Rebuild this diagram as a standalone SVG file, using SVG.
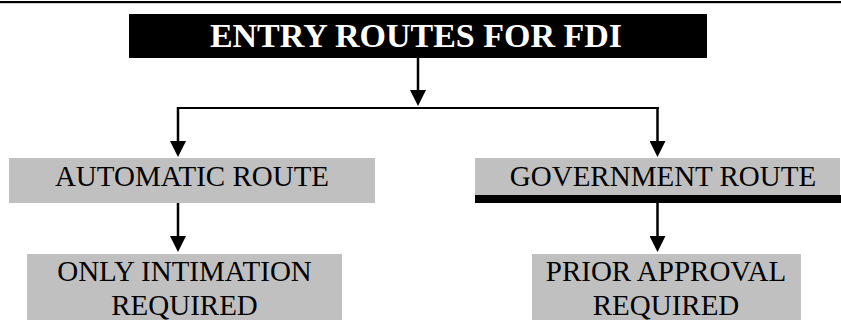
<svg xmlns="http://www.w3.org/2000/svg" width="841" height="320" viewBox="0 0 841 320">
<style>
.box{fill:#c0c0c0}
.lbl{font-family:"Liberation Serif","Times New Roman",serif;font-size:29px;fill:#000;text-anchor:middle}
.title{font-family:"Liberation Serif","Times New Roman",serif;font-size:34px;font-weight:bold;fill:#fff;text-anchor:middle}
.conn{stroke:#000;stroke-width:2.5;fill:none}
</style>
<defs>
<marker id="ah" markerUnits="userSpaceOnUse" markerWidth="16" markerHeight="16" viewBox="0 0 16 16" refX="8" refY="8" orient="auto">
<path d="M0,0 L16,8 L0,16 Z" fill="#000"/>
</marker>
</defs>
<rect x="0" y="1" width="841" height="2.2" fill="#000"/>
<g id="title">
<rect x="129" y="14" width="578" height="44" fill="#000"/>
<text class="title" x="416" y="47">ENTRY ROUTES FOR FDI</text>
</g>
<g id="automatic">
<rect class="box" x="9" y="158" width="366" height="45"/>
<text class="lbl" x="192" y="186">AUTOMATIC ROUTE</text>
</g>
<g id="government">
<rect class="box" x="475" y="158" width="365" height="38"/>
<rect x="475" y="195" width="366" height="8" fill="#000"/>
<text class="lbl" x="663" y="186">GOVERNMENT ROUTE</text>
</g>
<g id="intimation">
<rect class="box" x="27" y="254" width="315" height="66"/>
<text class="lbl" x="184.5" y="281">ONLY INTIMATION</text>
<text class="lbl" x="184.5" y="315">REQUIRED</text>
</g>
<g id="approval">
<rect class="box" x="532" y="254" width="269" height="66"/>
<text class="lbl" x="666" y="281">PRIOR APPROVAL</text>
<text class="lbl" x="666" y="315">REQUIRED</text>
</g>
<g id="connectors">
<line class="conn" x1="418" y1="58" x2="418" y2="98" marker-end="url(#ah)"/>
<line x1="177" y1="108" x2="659" y2="108" stroke="#000" stroke-width="2"/>
<line class="conn" x1="178" y1="107" x2="178" y2="149" marker-end="url(#ah)"/>
<line class="conn" x1="657.5" y1="107" x2="657.5" y2="149" marker-end="url(#ah)"/>
<line class="conn" x1="178" y1="203" x2="178" y2="244" marker-end="url(#ah)"/>
<line class="conn" x1="657.5" y1="203" x2="657.5" y2="244" marker-end="url(#ah)"/>
</g>
</svg>
